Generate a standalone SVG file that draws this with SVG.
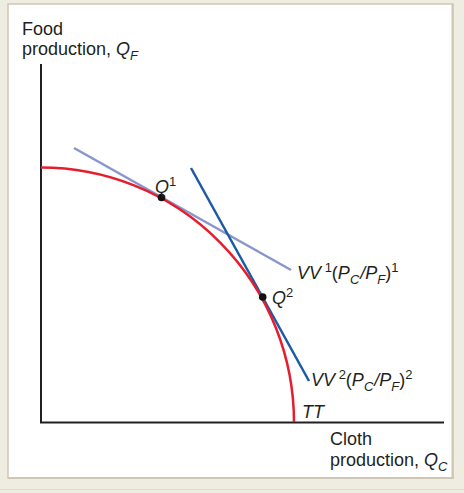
<svg xmlns="http://www.w3.org/2000/svg" width="464" height="493" viewBox="0 0 464 493">
<style>
.t{font-family:"Liberation Sans",Arial,sans-serif;font-size:18px;fill:#231f20}
.i{font-style:italic}
.s{font-size:13px}
.ax{stroke:#231f20;stroke-width:2;fill:none}
</style>
<rect x="0" y="0" width="464" height="493" fill="#efece1"/>
<line x1="0" y1="489.5" x2="464" y2="489.5" stroke="#e0dbcd" stroke-width="1"/>
<rect x="8" y="4" width="445" height="474" fill="#ffffff" stroke="#cfc6b5" stroke-width="1.5"/>
<line x1="452.5" y1="4" x2="452.5" y2="479" stroke="#cfc6b5" stroke-width="2"/>
<line x1="8" y1="478" x2="453" y2="478" stroke="#cfc6b5" stroke-width="2"/>

<g id="axes">
<path class="ax" d="M41,64 V422.5 H444"/>
</g>

<g id="connectors">
<line id="vv1" x1="74" y1="148" x2="291" y2="270" stroke="#8a95cb" stroke-width="2.5"/>
<line id="vv2" x1="191" y1="168" x2="309" y2="381" stroke="#1c5aa5" stroke-width="2.5"/>
</g>

<g id="tt">
<path d="M41,167.5 A253,255 0 0 1 294,422" fill="none" stroke="#e51e2e" stroke-width="2.5"/>
</g>

<g id="q1">
<circle cx="161.5" cy="197.5" r="3.8" fill="#111"/>
<text class="t i" x="155" y="193">Q<tspan class="s" dy="-7" font-style="normal">1</tspan></text>
</g>
<g id="q2">
<circle cx="262.7" cy="297" r="3.8" fill="#111"/>
<text class="t i" x="272" y="304">Q<tspan class="s" dy="-7" font-style="normal">2</tspan></text>
</g>

<g id="labels">
<text class="t" x="22" y="35">Food</text>
<text class="t" x="22" y="55">production, <tspan class="i">Q</tspan><tspan class="s i" dy="5">F</tspan></text>
<text class="t" x="330" y="445">Cloth</text>
<text class="t" x="330" y="466">production, <tspan class="i">Q</tspan><tspan class="s i" dy="5">C</tspan></text>
<text class="t i" x="302" y="418">TT</text>
<text class="t i" x="297" y="279">VV<tspan class="s" dy="-7" font-style="normal"> 1</tspan><tspan dy="7" font-style="normal">(</tspan>P<tspan class="s" dy="5">C</tspan><tspan dy="-5" dx="1">/P</tspan><tspan class="s" dy="5">F</tspan><tspan dy="-5" font-style="normal">)</tspan><tspan class="s" dy="-7" font-style="normal">1</tspan></text>
<text class="t i" x="311" y="386">VV<tspan class="s" dy="-7" font-style="normal"> 2</tspan><tspan dy="7" font-style="normal">(</tspan>P<tspan class="s" dy="5">C</tspan><tspan dy="-5" dx="1">/P</tspan><tspan class="s" dy="5">F</tspan><tspan dy="-5" font-style="normal">)</tspan><tspan class="s" dy="-7" font-style="normal">2</tspan></text>
</g>
</svg>
